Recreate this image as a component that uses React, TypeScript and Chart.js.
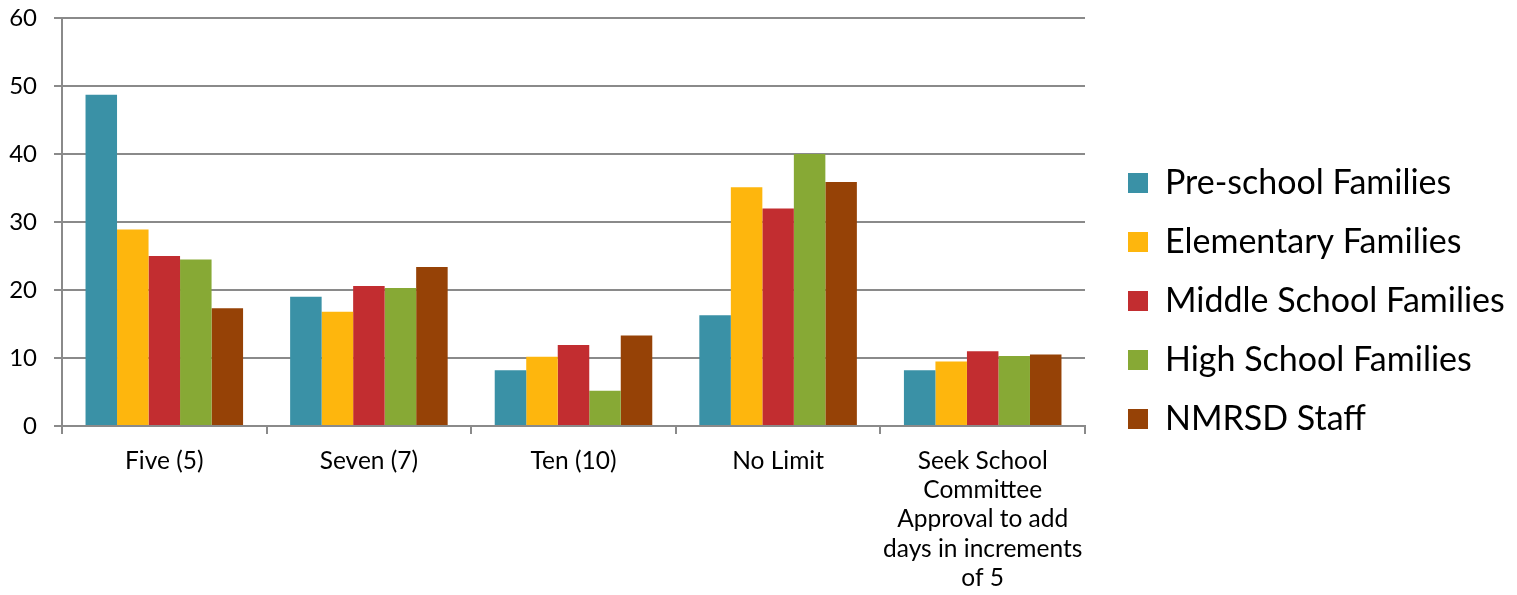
import React, { useEffect, useRef } from "react";
import { Chart, registerables } from "chart.js";

Chart.register(...registerables);

// ---------- data ----------
const categories: (string | string[])[] = [
  "Five (5)",
  "Seven (7)",
  "Ten (10)",
  "No Limit",
  ["Seek School", "Committee", "Approval to add", "days in increments", "of 5"],
];
const seriesNames = [
  "Pre-school Families",
  "Elementary Families",
  "Middle School Families",
  "High School Families",
  "NMRSD Staff",
];
const preschool = [48.7, 19.0, 8.2, 16.3, 8.2];
const elementary = [28.9, 16.8, 10.2, 35.1, 9.5];
const middleSchool = [25.0, 20.6, 11.9, 32.0, 11.0];
const highSchool = [24.5, 20.3, 5.2, 40.0, 10.3];
const staff = [17.3, 23.4, 13.3, 35.9, 10.5];
const yMin = 0;
const yMax = 60;
const yStep = 10;

// ---------- styles ----------
const seriesColors = ["#3A91A6", "#FEB60D", "#C22D30", "#87A935", "#964206"];
const FONT = "Lato, 'Noto Sans', sans-serif";
const GRID = "#8a8a8a";
const W = 1517;
const H = 595;
const LEGEND_FONT = 34;
const LEGEND_PAD = 25;
const LEGEND_BOX = 20;
const LEGEND_WIDTH = 432; // space reserved right of the plot
const LEGEND_GAP = 18;
const TOP = 18;

export default function App() {
  const ref = useRef<HTMLCanvasElement | null>(null);

  useEffect(() => {
    if (!ref.current) return;
    const seriesData = [preschool, elementary, middleSchool, highSchool, staff];

    const legendLayout = {
      id: "legendLayout",
      beforeLayout(chart: any) {
        const lg = chart.legend;
        if (lg && !lg._fixedFit) {
          const orig = lg.fit.bind(lg);
          lg.fit = function () {
            orig();
            this.width = LEGEND_WIDTH;
          };
          lg._fixedFit = true;
        }
      },
      beforeDraw(chart: any) {
        const lg = chart.legend;
        if (!lg) return;
        const w = lg.width;
        lg.left = chart.chartArea.right + LEGEND_GAP;
        lg.right = lg.left + w;
        lg.top = chart.chartArea.top - 11;
      },
    };

    const chart = new Chart(ref.current, {
      type: "bar",
      data: {
        labels: categories as any,
        datasets: seriesNames.map((name, i) => ({
          label: name,
          data: seriesData[i],
          backgroundColor: seriesColors[i],
          borderWidth: 0,
          categoryPercentage: 0.77,
          barPercentage: 1.0,
        })),
      },
      options: {
        animation: false,
        responsive: true,
        maintainAspectRatio: false,
        layout: { padding: { top: TOP, left: 0, right: 0, bottom: 0 } },
        plugins: {
          tooltip: { enabled: false },
          legend: {
            position: "right",
            align: "center",
            labels: {
              boxWidth: LEGEND_BOX,
              boxHeight: LEGEND_BOX,
              padding: LEGEND_PAD,
              color: "#000",
              font: { family: FONT, size: LEGEND_FONT },
            },
          },
        },
        scales: {
          x: {
            grid: {
              offset: true,
              drawOnChartArea: false,
              drawTicks: true,
              tickLength: 8,
              color: GRID,
              lineWidth: 2,
            },
            border: { display: true, color: GRID, width: 2 },
            ticks: {
              color: "#000",
              padding: 12,
              maxRotation: 0,
              autoSkip: false,
              font: { family: FONT, size: 24.5, lineHeight: 1.2 },
            },
            afterFit: (s: any) => {
              s.height = 169;
            },
          },
          y: {
            min: yMin,
            max: yMax,
            grid: { color: GRID, lineWidth: 2, tickLength: 8 },
            border: { display: true, color: GRID, width: 2 },
            ticks: {
              stepSize: yStep,
              color: "#000",
              padding: 17,
              font: { family: FONT, size: 24 },
            },
            afterFit: (s: any) => {
              s.width = 62;
              s.paddingTop = 0;
              s.paddingBottom = 0;
            },
          },
        },
      },
      plugins: [legendLayout],
    });
    return () => chart.destroy();
  }, []);

  return (
    <div style={{ position: "absolute", left: 0, top: 0, width: W, height: H, background: "#fff" }}>
      <canvas ref={ref} />
    </div>
  );
}
